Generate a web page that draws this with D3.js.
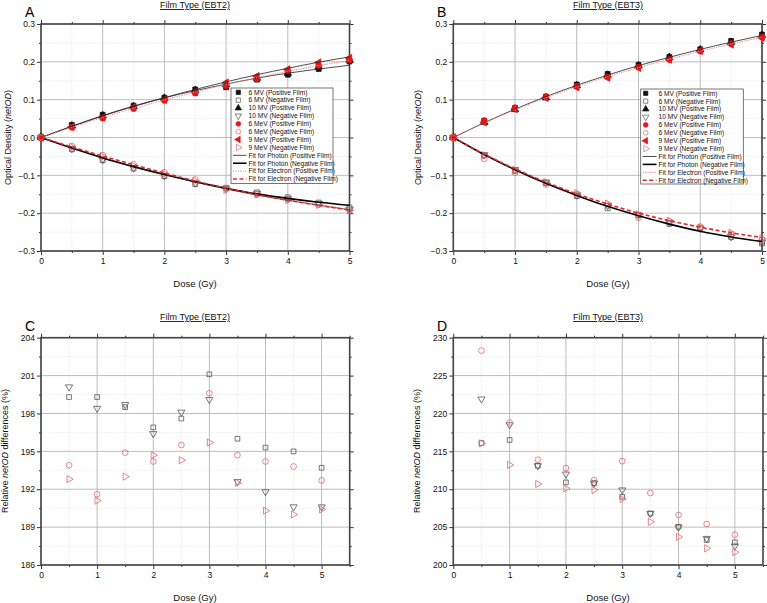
<!DOCTYPE html>
<html><head><meta charset="utf-8">
<script src="https://cdn.jsdelivr.net/npm/d3@7"></script>
<style>
body{margin:0;background:#fff;}
svg{font-family:"Liberation Sans",Arial,sans-serif;}
</style></head>
<body><svg id="c" width="767" height="603"></svg>
<script>
const doses = [0,0.5,1,1.5,2,2.5,3,3.5,4,4.5,5];
const diffDoses = [0.5,1,1.5,2,2.5,3,3.5,4,4.5,5];

// Panel A (EBT2) netOD
const a_6MV_pos  = [0,0.033,0.060,0.084,0.105,0.127,0.133,0.153,0.166,0.181,0.201];
const a_10MV_pos = [0,0.031,0.058,0.082,0.104,0.125,0.140,0.157,0.170,0.187,0.205];
const a_6MeV_pos = [0,0.027,0.051,0.076,0.098,0.117,0.137,0.155,0.176,0.190,0.205];
const a_9MeV_pos = [0,0.028,0.053,0.080,0.100,0.120,0.145,0.162,0.180,0.198,0.210];
const a_6MV_neg  = [0,-0.031,-0.060,-0.082,-0.102,-0.123,-0.133,-0.145,-0.158,-0.172,-0.185];
const a_10MV_neg = [0,-0.029,-0.058,-0.080,-0.101,-0.120,-0.135,-0.148,-0.162,-0.175,-0.190];
const a_6MeV_neg = [0,-0.023,-0.047,-0.071,-0.092,-0.111,-0.135,-0.150,-0.162,-0.177,-0.192];
const a_9MeV_neg = [0,-0.025,-0.050,-0.075,-0.096,-0.115,-0.138,-0.150,-0.165,-0.178,-0.193];
const a_fitPhotonPos  = [0,0.030,0.058,0.083,0.105,0.124,0.141,0.157,0.170,0.181,0.191];
const a_fitPhotonPos2 = [0,0.029,0.057,0.082,0.105,0.127,0.147,0.166,0.183,0.199,0.213];
const a_fitElecPos    = [0,0.027,0.053,0.077,0.099,0.120,0.140,0.158,0.175,0.190,0.204];
const a_fitPhotonNeg  = [0,-0.028,-0.054,-0.077,-0.098,-0.117,-0.134,-0.149,-0.161,-0.171,-0.179];
const a_fitPhotonNeg2 = [0,-0.027,-0.053,-0.077,-0.098,-0.118,-0.136,-0.152,-0.166,-0.179,-0.191];
const a_fitElecNeg    = [0,-0.025,-0.049,-0.072,-0.094,-0.115,-0.134,-0.151,-0.166,-0.179,-0.192];

// Panel B (EBT3) netOD
const b_6MV_pos  = [0,0.043,0.078,0.108,0.140,0.168,0.192,0.213,0.233,0.255,0.272];
const b_10MV_pos = [0,0.040,0.074,0.105,0.137,0.165,0.190,0.212,0.232,0.252,0.270];
const b_6MeV_pos = [0,0.045,0.079,0.108,0.135,0.160,0.186,0.206,0.228,0.248,0.265];
const b_9MeV_pos = [0,0.040,0.075,0.105,0.133,0.158,0.184,0.206,0.229,0.246,0.264];
const b_6MV_neg  = [0,-0.047,-0.088,-0.120,-0.155,-0.187,-0.205,-0.228,-0.240,-0.263,-0.280];
const b_10MV_neg = [0,-0.046,-0.085,-0.118,-0.152,-0.180,-0.205,-0.225,-0.240,-0.262,-0.277];
const b_6MeV_neg = [0,-0.056,-0.093,-0.124,-0.150,-0.178,-0.212,-0.222,-0.236,-0.255,-0.270];
const b_9MeV_neg = [0,-0.047,-0.086,-0.118,-0.147,-0.175,-0.203,-0.220,-0.238,-0.252,-0.267];
const b_fitPhotonPos = [0,0.039,0.075,0.108,0.138,0.165,0.190,0.212,0.233,0.252,0.270];
const b_fitElecPos   = [0,0.038,0.073,0.105,0.134,0.161,0.185,0.207,0.228,0.247,0.265];
const b_fitPhotonNeg = [0,-0.045,-0.085,-0.121,-0.153,-0.182,-0.207,-0.229,-0.248,-0.263,-0.275];
const b_fitElecNeg   = [0,-0.044,-0.083,-0.118,-0.149,-0.176,-0.200,-0.220,-0.237,-0.252,-0.264];

// Panel C (EBT2) relative differences (%)
const c_6MV  = [199.3,199.3,198.5,196.9,197.6,201.1,196.0,195.3,195.0,193.7];
const c_10MV = [200.1,198.4,198.7,196.4,198.1,199.1,192.6,191.8,190.6,190.6];
const c_6MeV = [193.9,191.6,194.9,194.2,195.5,199.6,194.7,194.2,193.8,192.7];
const c_9MeV = [192.8,191.1,193.0,194.7,194.3,195.7,192.5,190.3,190.0,190.4];
// Panel D (EBT3)
const d_6MV  = [216.1,216.5,213.1,210.9,210.8,209.0,206.8,205.05,203.3,203.0];
const d_10MV = [221.9,218.5,213.1,212.0,210.8,209.9,206.8,205.0,203.5,202.5];
const d_6MeV = [228.3,218.8,213.9,212.8,211.2,213.7,209.5,206.6,205.4,204.0];
const d_9MeV = [216.05,213.2,210.7,210.1,209.9,208.7,205.7,203.7,202.2,201.7];

const legendLabels = ["6 MV (Positive Film)","6 MV (Negative Film)","10 MV (Positive Film)","10 MV (Negative Film)",
  "6 MeV (Positive Film)","6 MeV (Negative Film)","9 MeV (Positive Film)","9 MeV (Negative Film)",
  "Fit for Photon (Positive Film)","Fit for Photon (Negative Film)","Fit for Electron (Positive Film)","Fit for Electron (Negative Film)"];

const RED = "#e3161b", PINK = "#e06868", GREY = "#555", BLK = "#111";
const svg = d3.select("#c");

// marker styles
const M = {
  sqF:  {type:d3.symbolSquare, rot:0, fill:BLK, stroke:BLK, size:24},
  sqO:  {type:d3.symbolSquare, rot:0, fill:"none", stroke:GREY, size:24},
  triF: {type:d3.symbolTriangle, rot:0, fill:BLK, stroke:BLK, size:24},
  triDO:{type:d3.symbolTriangle, rot:180, fill:"none", stroke:GREY, size:24},
  cirF: {type:d3.symbolCircle, rot:0, fill:RED, stroke:RED, size:26},
  cirO: {type:d3.symbolCircle, rot:0, fill:"none", stroke:PINK, size:28},
  triLF:{type:d3.symbolTriangle, rot:-90, fill:RED, stroke:RED, size:24},
  triRO:{type:d3.symbolTriangle, rot:90, fill:"none", stroke:PINK, size:24}
};
const L = {
  phPos:{stroke:"#222", w:0.8, dash:null},
  phNeg:{stroke:"#000", w:1.6, dash:null},
  elPos:{stroke:"#f08080", w:1.0, dash:"1.2,1.2"},
  elNeg:{stroke:"#e3262b", w:1.6, dash:"4,2.5"}
};

function drawMarker(g, x, y, st){
  g.append("path").attr("d", d3.symbol().type(st.type).size(st.size)())
   .attr("transform", `translate(${x},${y}) rotate(${st.rot})`)
   .attr("fill", st.fill).attr("stroke", st.stroke).attr("stroke-width", 0.8);
}

function frame(g, x, y, xMajor, xMinor, yMajor, yMinor, yFmt, showLastX){
  const [x0,x1] = x.range(), [y0,y1] = y.range(); // y0 bottom, y1 top
  const grid = g.append("g");
  xMinor.forEach(v=>grid.append("line").attr("x1",x(v)).attr("x2",x(v)).attr("y1",y0).attr("y2",y1).attr("stroke","#d8d8d8").attr("stroke-width",0.6).attr("stroke-dasharray","1,1.5"));
  yMinor.forEach(v=>grid.append("line").attr("x1",x0).attr("x2",x1).attr("y1",y(v)).attr("y2",y(v)).attr("stroke","#d8d8d8").attr("stroke-width",0.6).attr("stroke-dasharray","1,1.5"));
  xMajor.forEach(v=>grid.append("line").attr("x1",x(v)).attr("x2",x(v)).attr("y1",y0).attr("y2",y1).attr("stroke","#b5b5b5").attr("stroke-width",0.9));
  yMajor.forEach(v=>grid.append("line").attr("x1",x0).attr("x2",x1).attr("y1",y(v)).attr("y2",y(v)).attr("stroke","#b5b5b5").attr("stroke-width",0.9));
  // axes with d3
  const ax = g.append("g");
  const bottom = ax.append("g").attr("transform",`translate(0,${y0})`)
    .call(d3.axisBottom(x).tickValues(xMajor).tickSize(4).tickPadding(3).tickFormat(d3.format("d")));
  const bottomMinor = ax.append("g").attr("transform",`translate(0,${y0})`)
    .call(d3.axisBottom(x).tickValues(xMinor).tickSize(2).tickFormat(""));
  const top = ax.append("g").attr("transform",`translate(0,${y1})`)
    .call(d3.axisTop(x).tickValues(xMajor).tickSize(4).tickFormat(""));
  const topMinor = ax.append("g").attr("transform",`translate(0,${y1})`)
    .call(d3.axisTop(x).tickValues(xMinor).tickSize(2).tickFormat(""));
  const left = ax.append("g").attr("transform",`translate(${x0},0)`)
    .call(d3.axisLeft(y).tickValues(yMajor).tickSize(4).tickPadding(2).tickFormat(yFmt));
  const leftMinor = ax.append("g").attr("transform",`translate(${x0},0)`)
    .call(d3.axisLeft(y).tickValues(yMinor).tickSize(2).tickFormat(""));
  const right = ax.append("g").attr("transform",`translate(${x1},0)`)
    .call(d3.axisRight(y).tickValues(yMajor).tickSize(4).tickFormat(""));
  const rightMinor = ax.append("g").attr("transform",`translate(${x1},0)`)
    .call(d3.axisRight(y).tickValues(yMinor).tickSize(2).tickFormat(""));
  ax.selectAll(".domain").remove();
  ax.selectAll(".tick line").attr("stroke","#333").attr("stroke-width",1);
  ax.selectAll(".tick text").attr("font-size",8.5).attr("fill","#111").attr("font-family","Liberation Sans, Arial, sans-serif");
  g.append("rect").attr("x",x0).attr("y",y1).attr("width",x1-x0).attr("height",y0-y1)
    .attr("fill","none").attr("stroke","#444").attr("stroke-width",1.6);
}

function labels(g, letter, lx, ly, title, tcx, ty, ylab, ylx, yly, xcx, xly, ylabItalic){
  g.append("text").attr("x",lx).attr("y",ly).attr("font-size",14).attr("fill","#000").text(letter);
  g.append("text").attr("x",tcx).attr("y",ty).attr("text-anchor","middle").attr("font-size",9)
    .attr("text-decoration","underline").attr("fill","#111").text(title);
  const t = g.append("text").attr("transform",`translate(${ylx},${yly}) rotate(-90)`)
    .attr("text-anchor","middle").attr("font-size",9).attr("fill","#111");
  t.append("tspan").text(ylab[0]);
  t.append("tspan").attr("font-style","italic").text(ylab[1]);
  t.append("tspan").text(ylab[2]);
  g.append("text").attr("x",xcx).attr("y",xly).attr("text-anchor","middle").attr("font-size",9.5).attr("fill","#111").text("Dose (Gy)");
}

function panelOD(cfg){
  const g = svg.append("g");
  const x = d3.scaleLinear().domain([0,5]).range([cfg.x0,cfg.x1]);
  const y = d3.scaleLinear().domain([-0.3,0.3]).range([251,24]);
  frame(g, x, y, [0,1,2,3,4,5], [0.5,1.5,2.5,3.5,4.5],
        [-0.3,-0.2,-0.1,0,0.1,0.2,0.3], [-0.25,-0.15,-0.05,0.05,0.15,0.25], d3.format(".1f"), true);
  const series = [
    [cfg.d.p6MV,M.sqF],[cfg.d.n6MV,M.sqO],[cfg.d.p10MV,M.triF],[cfg.d.n10MV,M.triDO],
    [cfg.d.p6MeV,M.cirF],[cfg.d.n6MeV,M.cirO],[cfg.d.p9MeV,M.triLF],[cfg.d.n9MeV,M.triRO]];
  const mg = g.append("g");
  series.forEach(([vals,st])=>vals.forEach((v,i)=>drawMarker(mg,x(doses[i]),y(v),st)));
  const line = d3.line().x((d,i)=>x(doses[i])).y(d=>y(d)).curve(d3.curveMonotoneX);
  cfg.fits.forEach(([vals,st])=>{
    g.append("path").attr("d",line(vals)).attr("fill","none").attr("stroke",st.stroke)
     .attr("stroke-width",st.w).attr("stroke-dasharray",st.dash);
  });
  // legend
  const lg = g.append("g");
  const lb = cfg.leg;
  lg.append("rect").attr("x",lb.x).attr("y",lb.y).attr("width",lb.w).attr("height",lb.h)
    .attr("fill","#fff").attr("stroke","#555").attr("stroke-width",0.8);
  const styles = [M.sqF,M.sqO,M.triF,M.triDO,M.cirF,M.cirO,M.triLF,M.triRO,L.phPos,L.phNeg,L.elPos,L.elNeg];
  legendLabels.forEach((lab,i)=>{
    const yy = lb.r0 + i*lb.dy;
    const st = styles[i];
    if(i<8){
      lg.append("path").attr("d", d3.symbol().type(st.type).size(18)())
        .attr("transform",`translate(${lb.sx},${yy}) rotate(${st.rot})`)
        .attr("fill",st.fill).attr("stroke",st.stroke).attr("stroke-width",0.7);
    } else {
      lg.append("line").attr("x1",lb.x+2).attr("x2",lb.tx-2).attr("y1",yy).attr("y2",yy)
        .attr("stroke",st.stroke).attr("stroke-width",st.w).attr("stroke-dasharray",st.dash);
    }
    lg.append("text").attr("x",lb.tx).attr("y",yy+2.3).attr("font-size",6.6).attr("fill","#111").text(lab);
  });
}

panelOD({x0:41, x1:349.5,
  d:{p6MV:a_6MV_pos,n6MV:a_6MV_neg,p10MV:a_10MV_pos,n10MV:a_10MV_neg,p6MeV:a_6MeV_pos,n6MeV:a_6MeV_neg,p9MeV:a_9MeV_pos,n9MeV:a_9MeV_neg},
  fits:[[a_fitPhotonPos,L.phPos],[a_fitPhotonPos2,L.phPos],[a_fitElecPos,L.elPos],
        [a_fitPhotonNeg,L.phNeg],[a_fitPhotonNeg2,L.phPos],[a_fitElecNeg,L.elNeg]],
  leg:{x:231,y:88,w:102,h:95.5,r0:92.3,dy:7.88,sx:238.3,tx:248.5}});
panelOD({x0:453.3, x1:762,
  d:{p6MV:b_6MV_pos,n6MV:b_6MV_neg,p10MV:b_10MV_pos,n10MV:b_10MV_neg,p6MeV:b_6MeV_pos,n6MeV:b_6MeV_neg,p9MeV:b_9MeV_pos,n9MeV:b_9MeV_neg},
  fits:[[b_fitPhotonPos,L.phPos],[b_fitElecPos,L.elPos],[b_fitPhotonNeg,L.phNeg],[b_fitElecNeg,L.elNeg]],
  leg:{x:640.7,y:89,w:102.6,h:95,r0:93.3,dy:7.9,sx:645.7,tx:658.5}});

labels(svg.append("g"),"A",25,17,"Film Type (EBT2)",195,8,["Optical Density (","netOD",")"],11,137.5,195,287);
labels(svg.append("g"),"B",437,17,"Film Type (EBT3)",608,8,["Optical Density (","netOD",")"],421,137.5,608,287);

function panelDiff(cfg){
  const g = svg.append("g");
  const x = d3.scaleLinear().domain([0,5.5]).range([cfg.x0,cfg.x1]);
  const y = d3.scaleLinear().domain(cfg.yd).range([565,337.7]);
  frame(g, x, y, [0,1,2,3,4,5], [0.5,1.5,2.5,3.5,4.5,5.5], cfg.yMaj, cfg.yMin, d3.format("d"), false);
  const st = {
    sq:{type:d3.symbolSquare, rot:0, fill:"none", stroke:GREY, size:22},
    td:{type:d3.symbolTriangle, rot:180, fill:"none", stroke:GREY, size:22},
    ci:{type:d3.symbolCircle, rot:0, fill:"none", stroke:PINK, size:26},
    tr:{type:d3.symbolTriangle, rot:90, fill:"none", stroke:PINK, size:22}
  };
  const mg = g.append("g");
  [[cfg.s6MV,st.sq],[cfg.s10MV,st.td],[cfg.s6MeV,st.ci],[cfg.s9MeV,st.tr]].forEach(([vals,s])=>
    vals.forEach((v,i)=>drawMarker(mg,x(diffDoses[i]),y(v),s)));
}
panelDiff({x0:41,x1:349.7,yd:[186,204],yMaj:[186,189,192,195,198,201,204],yMin:[187.5,190.5,193.5,196.5,199.5,202.5],
  s6MV:c_6MV,s10MV:c_10MV,s6MeV:c_6MeV,s9MeV:c_9MeV});
panelDiff({x0:453.3,x1:763,yd:[200,230],yMaj:[200,205,210,215,220,225,230],yMin:[202.5,207.5,212.5,217.5,222.5,227.5],
  s6MV:d_6MV,s10MV:d_10MV,s6MeV:d_6MeV,s9MeV:d_9MeV});

labels(svg.append("g"),"C",25,331,"Film Type (EBT2)",195,320,["Relative ","netOD"," differences (%)"],8,451,195,601);
labels(svg.append("g"),"D",437,331,"Film Type (EBT3)",608,320,["Relative ","netOD"," differences (%)"],420,451,608,601);
</script></body></html>
